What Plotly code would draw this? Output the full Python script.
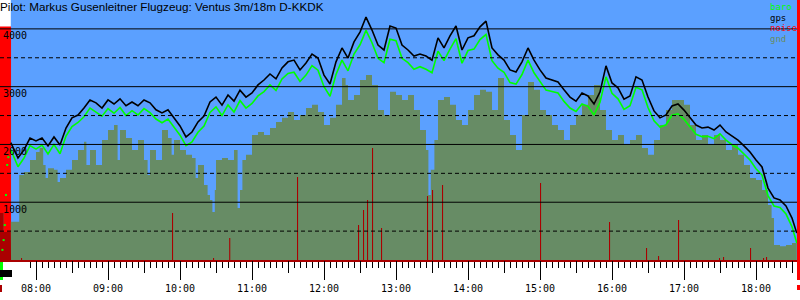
import numpy as np
import pandas as pd
import plotly.graph_objects as go

DAY = "2024-06-15 "

# ---------------- data ----------------
gps_times = ["07:39", "07:40", "07:45", "07:50", "07:55", "08:00", "08:05", "08:10", "08:15", "08:20",
             "08:25", "08:30", "08:35", "08:40", "08:45", "08:50", "08:55", "09:00", "09:05", "09:10",
             "09:15", "09:20", "09:25", "09:30", "09:35", "09:40", "09:45", "09:50", "09:55", "10:00",
             "10:05", "10:10", "10:15", "10:20", "10:25", "10:30", "10:35", "10:40", "10:45", "10:50",
             "10:55", "11:00", "11:05", "11:10", "11:15", "11:20", "11:25", "11:30", "11:35", "11:40",
             "11:45", "11:50", "11:55", "12:00", "12:05", "12:10", "12:15", "12:20", "12:25", "12:30",
             "12:35", "12:40", "12:45", "12:50", "12:55", "13:00", "13:05", "13:10", "13:15", "13:20",
             "13:25", "13:30", "13:35", "13:40", "13:45", "13:50", "13:55", "14:00", "14:05", "14:10",
             "14:15", "14:20", "14:25", "14:30", "14:35", "14:40", "14:45", "14:50", "14:55", "15:00",
             "15:05", "15:10", "15:15", "15:20", "15:25", "15:30", "15:35", "15:40", "15:45", "15:50",
             "15:55", "16:00", "16:05", "16:10", "16:15", "16:20", "16:25", "16:30", "16:35", "16:40",
             "16:45", "16:50", "16:55", "17:00", "17:05", "17:10", "17:15", "17:20", "17:25", "17:30",
             "17:35", "17:40", "17:45", "17:50", "17:55", "18:00", "18:05", "18:10", "18:15", "18:20",
             "18:25", "18:30", "18:34"]

gps_alt = [2030, 1990, 1765, 1905, 2110, 2060, 2110, 1975, 2130, 1990,
           2285, 2460, 2510, 2630, 2770, 2720, 2630, 2770, 2700, 2790,
           2670, 2735, 2670, 2770, 2720, 2600, 2545, 2600, 2460, 2320,
           2130, 2215, 2390, 2490, 2735, 2820, 2680, 2855, 2750, 2940,
           2820, 2890, 3030, 3115, 3220, 3135, 3325, 3430, 3460, 3290,
           3410, 3565, 3495, 3200, 3045, 3430, 3670, 3495, 3775, 3945,
           4205, 3980, 3720, 3635, 4050, 4015, 3720, 3635, 3530, 3565,
           3530, 3460, 3845, 3670, 3880, 4050, 3635, 3845, 3880, 4035,
           4135, 3670, 3550, 3460, 3290, 3255, 3430, 3670, 3460, 3290,
           3150, 3115, 3080, 2945, 2820, 2750, 2890, 2840, 2700, 2910,
           3360, 3065, 2980, 2785, 2840, 3170, 3115, 2820, 2580, 2460,
           2510, 2665, 2700, 2595, 2460, 2335, 2285, 2300, 2250, 2335,
           2215, 2145, 2075, 1975, 1870, 1730, 1610, 1245, 1075, 1040,
           935, 725, 465]

baro_alt = [1910, 1860, 1615, 1765, 1980, 1920, 1990, 1835, 2000, 1840,
            2145, 2310, 2380, 2480, 2630, 2560, 2490, 2620, 2540, 2640,
            2500, 2585, 2510, 2620, 2550, 2440, 2375, 2440, 2290, 2160,
            1980, 2045, 2210, 2320, 2555, 2650, 2500, 2685, 2560, 2760,
            2630, 2710, 2840, 2915, 3030, 2935, 3135, 3230, 3250, 3090,
            3200, 3365, 3285, 3000, 2835, 3210, 3460, 3275, 3565, 3725,
            3975, 3760, 3490, 3415, 3820, 3795, 3490, 3415, 3300, 3345,
            3300, 3240, 3615, 3450, 3650, 3830, 3405, 3625, 3650, 3815,
            3905, 3450, 3320, 3250, 3070, 3045, 3210, 3460, 3240, 3090,
            2940, 2915, 2890, 2745, 2630, 2570, 2700, 2660, 2510, 2730,
            3170, 2885, 2790, 2605, 2670, 2990, 2945, 2640, 2410, 2300,
            2340, 2505, 2530, 2435, 2310, 2175, 2135, 2140, 2100, 2185,
            2075, 1995, 1935, 1825, 1730, 1580, 1470, 1115, 935, 910,
            795, 575, 295]

climb_times = ["07:32", "07:33", "07:34", "07:35", "07:36", "07:37"]
climb_alt = [175, 345, 605, 1125, 1645, 1780]

gnd_times = ["07:30", "07:33", "07:39", "07:46", "07:50", "07:55", "08:00", "08:03", "08:06", "08:08",
             "08:10", "08:15", "08:18", "08:20", "08:25", "08:30", "08:35", "08:40", "08:42", "08:45",
             "08:50", "08:55", "09:00", "09:05", "09:08", "09:10", "09:15", "09:20", "09:25", "09:30",
             "09:33", "09:35", "09:40", "09:45", "09:50", "09:53", "09:55", "10:00", "10:05", "10:10",
             "10:13", "10:15", "10:20", "10:23", "10:25", "10:27", "10:29", "10:30", "10:35", "10:40",
             "10:45", "10:48", "10:50", "10:52", "10:55", "11:00", "11:05", "11:10", "11:15", "11:20",
             "11:25", "11:30", "11:35", "11:40", "11:45", "11:50", "11:55", "12:00", "12:05", "12:10",
             "12:15", "12:18", "12:20", "12:25", "12:30", "12:35", "12:40", "12:45", "12:50", "12:55",
             "13:00", "13:05", "13:10", "13:15", "13:20", "13:25", "13:27", "13:29", "13:32", "13:35",
             "13:40", "13:45", "13:50", "13:55", "14:00", "14:05", "14:10", "14:15", "14:20", "14:25",
             "14:30", "14:35", "14:40", "14:45", "14:50", "14:55", "15:00", "15:05", "15:10", "15:15",
             "15:20", "15:25", "15:30", "15:35", "15:40", "15:45", "15:50", "15:55", "16:00", "16:05",
             "16:10", "16:15", "16:20", "16:25", "16:30", "16:35", "16:40", "16:45", "16:50", "16:55",
             "17:00", "17:05", "17:10", "17:15", "17:20", "17:25", "17:30", "17:35", "17:40", "17:45",
             "17:50", "17:55", "18:00", "18:05", "18:10", "18:13", "18:15", "18:20", "18:25", "18:30",
             "18:34"]

gnd_alt = [815, 485, 660, 1470, 1525, 1730, 1870, 1940, 1645, 1420,
           1590, 1560, 1350, 1420, 1560, 1730, 1905, 2045, 1645, 1905,
           1645, 2075, 2250, 2335, 1730, 2250, 2110, 1905, 2075, 1730,
           1470, 1905, 1730, 2250, 2110, 1820, 2075, 1905, 1820, 1765,
           1420, 1645, 1300, 1125, 1040, 830, 1210, 1730, 1765, 1730,
           1905, 900, 1210, 1730, 1820, 2165, 2215, 2165, 2285, 2390,
           2460, 2560, 2425, 2510, 2630, 2685, 2560, 2335, 2460, 2685,
           3150, 3030, 2770, 2855, 3115, 3200, 3030, 2595, 2510, 2910,
           2855, 2770, 2855, 2595, 2250, 1905, 1125, 1560, 2075, 2770,
           2820, 2685, 2425, 2335, 2595, 2855, 2945, 2910, 2595, 3150,
           2425, 2165, 1905, 2510, 3080, 2945, 2595, 2510, 2335, 2250,
           2075, 2335, 2510, 2685, 2855, 3030, 2595, 2250, 2075, 2165,
           1990, 2075, 2165, 1940, 1820, 2075, 2335, 2595, 2770, 2770,
           2685, 2335, 2075, 2165, 1990, 2165, 2075, 1905, 1990, 1820,
           1645, 1420, 1385, 1210, 950, 725, 260, 240, 260, 295,
           345]

# noise events: start time, level (% of full scale), duration (minutes)
noise_times = ["07:30:00", "07:47:30", "09:53:20", "10:27:30", "10:41:00", "11:37:30", "12:28:20",
               "12:32:30", "12:35:50", "12:40:00", "12:47:30", "13:25:50", "13:30:00", "13:38:20",
               "15:00:00", "15:57:30", "16:28:20", "16:38:20", "16:55:00", "17:29:10", "17:32:30",
               "17:55:00", "18:05:50", "18:08:20"]
noise_level = [100, 0.9, 20.1, 0.9, 9.4, 35.6, 15.0,
               21.4, 25.7, 48.0, 13.7, 27.4, 30.0, 32.1,
               33.0, 16.3, 5.1, 1.7, 17.1, 0.9, 1.3,
               5.1, 0.9, 1.3]
noise_minutes = [9.2] + [0.9] * 23
NOISE_FULL = 4040  # altitude-equivalent of 100 % noise on the chart

alt_ticks = [1000, 2000, 3000, 4000]
half_ticks = [500, 1500, 2500, 3500]
legend_names = ["baro", "gps", "noise", "gnd"]

# ---------------- style ----------------
SKY = "#5ba0ff"
GND = "#678c65"
BARO = "#00ff00"
GPS = "#000000"
NOISE = "#ff0000"
NOISE_DARK = "#aa0000"
MONO = "DejaVu Sans Mono"

W, H = 800, 300
ML, MR, MT, MB = 0, 3, 0, 40
PW, PH = W - ML - MR, H - MT - MB


def ts(lst):
    return [pd.Timestamp(DAY + t) for t in lst]


gps_t = ts(gps_times)
climb_t = ts(climb_times)
gnd_t = ts(gnd_times)
noise_t = ts(noise_times)
gnd_np = np.array(gnd_t, dtype="datetime64[ns]")


def gnd_at(t):
    i = np.searchsorted(gnd_np, np.datetime64(t), side="right") - 1
    return gnd_alt[i] if i >= 0 else 0


bx, by, dx, dy = [], [], [], []
for t0, lev, dur in zip(noise_t, noise_level, noise_minutes):
    t1 = t0 + pd.Timedelta(minutes=dur)
    v = lev / 100 * NOISE_FULL
    bx += [t0, t0, t1, t1, t0, None]
    by += [0, v, v, 0, 0, None]
    pts = [t0] + [g for g in gnd_t if t0 < g < t1] + [t1]
    xs, ys = [t0], [0]
    for a, b in zip(pts[:-1], pts[1:]):
        m = min(v, gnd_at(a))
        xs += [a, b]
        ys += [m, m]
    xs += [t1, t0, None]
    ys += [0, 0, None]
    dx += xs
    dy += ys

x_start = pd.Timestamp(DAY + "07:30:00")
x_end = x_start + pd.Timedelta(hours=PW / 72)

fig = go.Figure()
fig.add_trace(go.Scatter(x=bx, y=by, mode="lines", fill="toself", fillcolor=NOISE,
                         line=dict(width=0, color=NOISE), hoverinfo="skip", name="noise"))
fig.add_trace(go.Scatter(x=gnd_t, y=gnd_alt, mode="lines", fill="tozeroy", fillcolor=GND,
                         line=dict(width=0, color=GND, shape="hv"), name="gnd"))
fig.add_trace(go.Scatter(x=dx, y=dy, mode="lines", fill="toself", fillcolor=NOISE_DARK,
                         line=dict(width=0, color=NOISE_DARK), hoverinfo="skip", name="noise (gnd)"))
fig.add_trace(go.Scatter(x=climb_t, y=climb_alt, mode="markers",
                         marker=dict(symbol="square", size=2, color=BARO, line=dict(width=0)), name="climb"))
fig.add_trace(go.Scatter(x=gps_t, y=baro_alt, mode="lines", line=dict(color=BARO, width=1.6), name="baro"))
fig.add_trace(go.Scatter(x=gps_t, y=gps_alt, mode="lines", line=dict(color=GPS, width=1.6), name="gps"))
fig.add_trace(go.Scatter(x=[x_start], y=[0], xaxis="x2", mode="markers",
                         marker=dict(opacity=0), hoverinfo="skip", showlegend=False))

shapes = [dict(type="rect", layer="below", xref="x", yref="paper", x0=x_start, x1=gps_t[0],
               y0=0, y1=1, fillcolor="white", line=dict(width=0))]
for v in alt_ticks:
    shapes.append(dict(type="line", layer="above", xref="paper", yref="y", x0=0, x1=1, y0=v, y1=v,
                       line=dict(color="black", width=1)))
for v in half_ticks:
    shapes.append(dict(type="line", layer="above", xref="paper", yref="y", x0=0, x1=1, y0=v, y1=v,
                       line=dict(color="black", width=1, dash="4px,3px")))
# cursor / position markers at the edges of the strip
shapes.append(dict(type="rect", layer="above", xref="paper", yref="paper", x0=1, x1=1 + MR / PW,
                   y0=-20 / PH, y1=1, fillcolor=NOISE, line=dict(width=0)))
shapes.append(dict(type="rect", layer="above", xref="paper", yref="paper", x0=1, x1=1 + MR / PW,
                   y0=-30 / PH, y1=-25 / PH, fillcolor=NOISE, line=dict(width=0)))
shapes.append(dict(type="rect", layer="above", xref="paper", yref="paper", x0=0, x1=3 / PW,
                   y0=-20 / PH, y1=-2 / PH, fillcolor=BARO, line=dict(width=0)))
shapes.append(dict(type="rect", layer="above", xref="paper", yref="paper", x0=0, x1=12 / PW,
                   y0=-17 / PH, y1=-10 / PH, fillcolor="black", line=dict(width=0)))
shapes.append(dict(type="rect", layer="above", xref="paper", yref="paper", x0=0, x1=2 / PW,
                   y0=-32 / PH, y1=-25 / PH, fillcolor=NOISE_DARK, line=dict(width=0)))

legend_colors = [BARO, GPS, NOISE, GND]
annotations = [dict(text="Pilot: Markus Gusenleitner Flugzeug: Ventus 3m/18m D-KKDK", xref="paper", yref="paper",
                    x=0, y=1, xanchor="left", yanchor="top", showarrow=False, xshift=-2, yshift=2,
                    font=dict(family="Liberation Sans", size=11.7, color="black"))]
for i, (name, col) in enumerate(zip(legend_names, legend_colors)):
    annotations.append(dict(text=name, xref="paper", yref="paper", x=769 / PW, y=1 - (7 + 10.6 * i) / PH,
                            xanchor="left", yanchor="middle", showarrow=False, borderpad=0,
                            font=dict(family=MONO, size=9, color=col)))

tickfont = dict(family=MONO, size=10, color="black")
fig.update_layout(
    width=W, height=H, margin=dict(l=ML, r=MR, t=MT, b=MB),
    paper_bgcolor="white", plot_bgcolor=SKY, showlegend=False,
    shapes=shapes, annotations=annotations,
    xaxis=dict(type="date", range=[x_start, x_end], tickformat="%H:%M", dtick=3600000,
               tick0=DAY + "08:00", ticks="outside", ticklen=18, tickwidth=1, tickcolor="black",
               showgrid=False, zeroline=False, showline=True, linecolor=NOISE_DARK, linewidth=2,
               tickfont=tickfont, layer="above traces", fixedrange=True,
               minor=dict(dtick=300000, ticks="outside", ticklen=6, tickwidth=1, tickcolor="black",
                          showgrid=False)),
    xaxis2=dict(type="date", overlaying="x", range=[x_start, x_end], dtick=1800000,
                tick0=DAY + "08:00", ticks="outside", ticklen=12, tickwidth=1, tickcolor="black",
                showticklabels=False, showgrid=False, zeroline=False, showline=False, fixedrange=True),
    yaxis=dict(range=[0, 4500], tickvals=alt_ticks, ticktext=[str(v) for v in alt_ticks],
               ticks="", ticklabelposition="inside", ticklabelshift=7, ticklabelstandoff=0,
               showgrid=False, zeroline=False, showline=False, tickfont=tickfont,
               layer="above traces", fixedrange=True),
)

fig.write_html("out.html")
